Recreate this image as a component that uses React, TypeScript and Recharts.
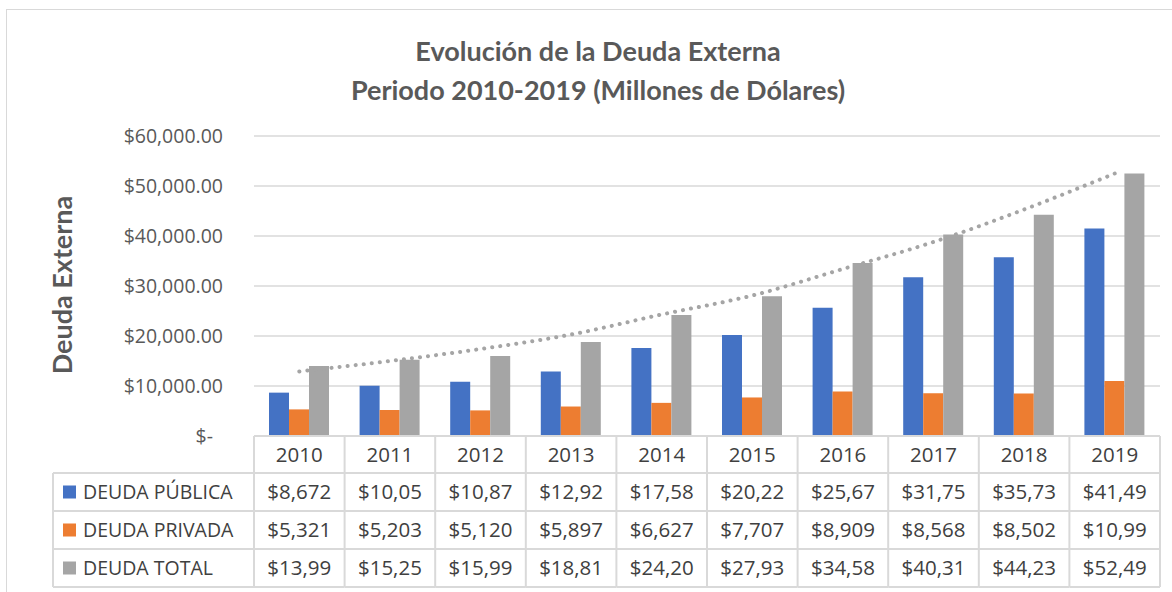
import React from "react";
import { ComposedChart, Bar, Line, XAxis, YAxis, CartesianGrid } from "recharts";

const years = ["2010", "2011", "2012", "2013", "2014", "2015", "2016", "2017", "2018", "2019"];
const deudaPublica = [8672, 10050, 10870, 12920, 17580, 20220, 25670, 31750, 35730, 41490];
const deudaPrivada = [5321, 5203, 5120, 5897, 6627, 7707, 8909, 8568, 8502, 10990];
const deudaTotal = [13993, 15253, 15990, 18817, 24207, 27930, 34580, 40318, 44232, 52490];
// dotted trend line of the total
const tendencia = [12900, 15000, 17400, 20300, 24300, 28100, 33400, 38800, 45300, 52500];
const yTicks = [0, 10000, 20000, 30000, 40000, 50000, 60000];

const seriesNames = ["DEUDA PÚBLICA", "DEUDA PRIVADA", "DEUDA TOTAL"];
const seriesColors = ["#4472C4", "#ED7D31", "#A5A5A5"];
const seriesValues = [deudaPublica, deudaPrivada, deudaTotal];

const data = years.map((year, i) => ({
  year,
  publica: deudaPublica[i],
  privada: deudaPrivada[i],
  total: deudaTotal[i],
  tendencia: tendencia[i],
}));

const W = 1172;
const H = 592;
const PLOT_LEFT = 254;
const PLOT_RIGHT = 1160;
const TABLE_TOP = 436;
const HEAD_H = 37;
const ROW_H = 38;
const COL_W = (PLOT_RIGHT - PLOT_LEFT) / years.length;
const LABEL_LEFT = 53;
const GRID = "#D9D9D9";
const TEXT = "#404040";
const FONT = "Lato, 'Open Sans', sans-serif";
const SMALL_FONT = "'Open Sans', sans-serif";

// Excel cuts the numbers to the cell width
const cellText = (v: number) => ("$" + v.toLocaleString("en-US")).slice(0, 6);

const yLabel = (v: number) =>
  v === 0 ? "$-" : "$" + v.toLocaleString("en-US", { minimumFractionDigits: 2 });

const YTick = (props: any) => {
  const { y, payload } = props;
  return (
    <text
      x={payload.value === 0 ? 213 : 223}
      y={y}
      dy={7}
      textAnchor="end"
      fill="#595959"
      fontSize={19.5}
      fontFamily={SMALL_FONT}
    >
      {yLabel(payload.value)}
    </text>
  );
};

const TableTick = (props: any) => {
  const { x, payload, index } = props;
  const right = x + COL_W / 2;
  const bottom = TABLE_TOP + HEAD_H + ROW_H * 3;
  const rowLines = [0, 1, 2, 3].map((r) => TABLE_TOP + HEAD_H + ROW_H * r);
  return (
    <g>
      {index === 0 && (
        <g>
          <line x1={PLOT_LEFT} x2={PLOT_LEFT} y1={TABLE_TOP} y2={bottom} stroke={GRID} strokeWidth={2} />
          <line x1={LABEL_LEFT} x2={LABEL_LEFT} y1={TABLE_TOP + HEAD_H} y2={bottom} stroke={GRID} strokeWidth={2} />
          {rowLines.map((ly) => (
            <line key={ly} x1={LABEL_LEFT} x2={PLOT_LEFT} y1={ly} y2={ly} stroke={GRID} strokeWidth={2} />
          ))}
          {seriesNames.map((name, r) => {
            const cy = TABLE_TOP + HEAD_H + ROW_H * r + ROW_H / 2;
            return (
              <g key={name}>
                <rect x={63} y={cy - 6.5} width={13} height={13} fill={seriesColors[r]} />
                <text x={83} y={cy} dy={7} fill={TEXT} fontSize={19.5} fontFamily={SMALL_FONT}>
                  {name}
                </text>
              </g>
            );
          })}
        </g>
      )}
      <line x1={right} x2={right} y1={TABLE_TOP} y2={bottom} stroke={GRID} strokeWidth={2} />
      {rowLines.map((ly) => (
        <line key={ly} x1={x - COL_W / 2} x2={right} y1={ly} y2={ly} stroke={GRID} strokeWidth={2} />
      ))}
      <text x={x} y={TABLE_TOP + HEAD_H / 2} dy={7} textAnchor="middle" fill={TEXT} fontSize={20.5} fontFamily={SMALL_FONT}>
        {payload.value}
      </text>
      {seriesValues.map((vals, r) => (
        <text
          key={r}
          x={x}
          y={TABLE_TOP + HEAD_H + ROW_H * r + ROW_H / 2}
          dy={7}
          textAnchor="middle"
          fill={TEXT}
          fontSize={20.5}
          fontFamily={SMALL_FONT}
        >
          {cellText(vals[index])}
        </text>
      ))}
    </g>
  );
};

export default function App() {
  return (
    <div style={{ position: "absolute", left: 0, top: 0, width: W, height: H, background: "#fff", overflow: "hidden" }}>
      <div
        style={{
          position: "absolute",
          left: 6,
          top: 9,
          width: W,
          height: H,
          borderLeft: `1.5px solid ${GRID}`,
          borderTop: `1.5px solid ${GRID}`,
        }}
      />
      <div
        style={{
          position: "absolute",
          left: 0,
          top: 31,
          width: 1196,
          textAlign: "center",
          fontFamily: FONT,
          fontWeight: 700,
          fontSize: 27,
          lineHeight: "39px",
          color: "#595959",
        }}
      >
        Evolución de la Deuda Externa
        <br />
        Periodo 2010-2019 (Millones de Dólares)
      </div>
      <div
        style={{
          position: "absolute",
          left: 61,
          top: 285,
          transform: "translate(-50%, -50%) rotate(-90deg)",
          whiteSpace: "nowrap",
          fontFamily: FONT,
          fontWeight: 700,
          fontSize: 27,
          color: "#595959",
        }}
      >
        Deuda Externa
      </div>
      <div style={{ position: "absolute", left: 0, top: 0 }}>
        <ComposedChart
          width={W}
          height={H}
          data={data}
          margin={{ top: 136, right: W - PLOT_RIGHT, left: 0, bottom: 4 }}
          barGap={0}
        >
          <CartesianGrid vertical={false} stroke={GRID} strokeWidth={1.5} />
          <XAxis
            dataKey="year"
            height={152}
            interval={0}
            tickLine={false}
            axisLine={{ stroke: GRID, strokeWidth: 2 }}
            tick={<TableTick />}
          />
          <YAxis
            width={PLOT_LEFT}
            domain={[0, 60000]}
            ticks={yTicks}
            axisLine={false}
            tickLine={false}
            tickSize={0}
            tick={<YTick />}
          />
          <Bar dataKey="publica" fill={seriesColors[0]} barSize={20} isAnimationActive={false} />
          <Bar dataKey="privada" fill={seriesColors[1]} barSize={20} isAnimationActive={false} />
          <Bar dataKey="total" fill={seriesColors[2]} barSize={20} isAnimationActive={false} />
          <Line
            dataKey="tendencia"
            type="monotone"
            stroke="#A5A5A5"
            strokeWidth={4}
            strokeDasharray="0.1 8"
            strokeLinecap="round"
            dot={false}
            activeDot={false}
            isAnimationActive={false}
          />
        </ComposedChart>
      </div>
    </div>
  );
}
